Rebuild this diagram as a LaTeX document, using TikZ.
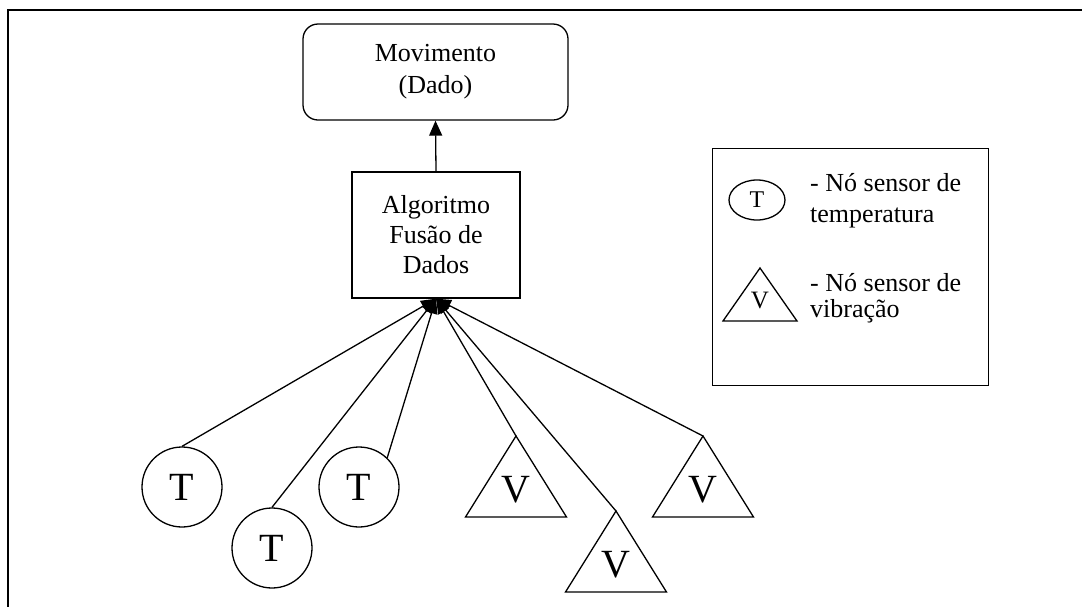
\documentclass[tikz,border=0pt]{standalone}
\usepackage{fontspec}
\setmainfont{Liberation Serif}
\usetikzlibrary{arrows.meta,calc,shapes.geometric}
\begin{document}
\begin{tikzpicture}[x=1pt,y=-1pt,
  thinline/.style={line width=1.3pt},
  boxtext/.style={align=center},
  sensorT/.style={thinline, draw, circle, minimum size=80pt, inner sep=0pt,
    font=\fontsize{40}{40}\selectfont},
  sensortip/.style={-{Triangle[length=15pt,width=12pt]}},
  legtext/.style={font=\fontsize{26}{26}\selectfont, anchor=base west, inner sep=0pt}
]
\useasboundingbox (0,0) rectangle (1082,606);
% outer frame (runs past the page on the right and bottom)
\begin{scope}
  \clip (0,0) rectangle (1082,606);
  \draw[line width=2.2pt] (8,640) -- (8,10) -- (1120,10);
\end{scope}

% result and fusion boxes
\node[thinline, draw, rounded corners=15pt, minimum width=265pt, minimum height=96pt,
  boxtext, font=\fontsize{26}{32}\selectfont] (mov) at (435.5,72) {Movimento\\(Dado)};
\node[thinline, draw, minimum width=168pt, minimum height=126pt, boxtext,
  font=\fontsize{26}{30}\selectfont] (alg) at (436,235) {Algoritmo\\Fusão de\\Dados};
\draw[thinline, -{Triangle[length=15pt,width=13pt]}] (alg.north) -- (mov.south);

% temperature sensors
\node[sensorT] (t1) at (182,487) {T};
\node[sensorT] (t2) at (272,548) {T};
\node[sensorT] (t3) at (359,487) {T};

% vibration sensors: apex coordinate, triangle outline and label
\coordinate (v1) at (516,436);
\coordinate (v2) at (616,511);
\coordinate (v3) at (703,436);
\foreach \v in {v1,v2,v3}{
  \draw[thinline, line join=miter] (\v) -- ++(-50.5,81) -- ++(101,0) -- cycle;
  \node[font=\fontsize{40}{40}\selectfont, inner sep=0pt] (\v lab) at ($(\v)+(0,54)$) {V};
}

% connectors into the fusion box
\draw[thinline, sensortip] (t1.north) -- (alg.south);
\draw[thinline, sensortip] (t2.north) -- (alg.south);
\draw[thinline, sensortip] (t3.46) -- (alg.south);
\draw[thinline, sensortip] (v1) -- (alg.south);
\draw[thinline, sensortip] (v2) -- (alg.south);
\draw[thinline, sensortip] (v3) -- (alg.south);

% legend
\node[thinline, draw, minimum width=276pt, minimum height=237pt, anchor=north west] (leg) at (712,148) {};
\node[thinline, draw, ellipse, minimum width=56pt, minimum height=40pt, inner sep=0pt,
  font=\fontsize{24}{24}\selectfont] (legT) at (757,200) {T};
\coordinate (legV) at (760,268);
\draw[thinline] (legV) -- ++(-37,53) -- ++(74,0) -- cycle;
\node[font=\fontsize{25}{25}\selectfont, inner sep=0pt] (legVlab) at (760,300) {V};
\node[legtext] (l1) at (810,191) {- Nó sensor de};
\node[legtext] (l2) at (810,222) {temperatura};
\node[legtext] (l3) at (810,291) {- Nó sensor de};
\node[legtext] (l4) at (810,317) {vibração};
\end{tikzpicture}
\end{document}
